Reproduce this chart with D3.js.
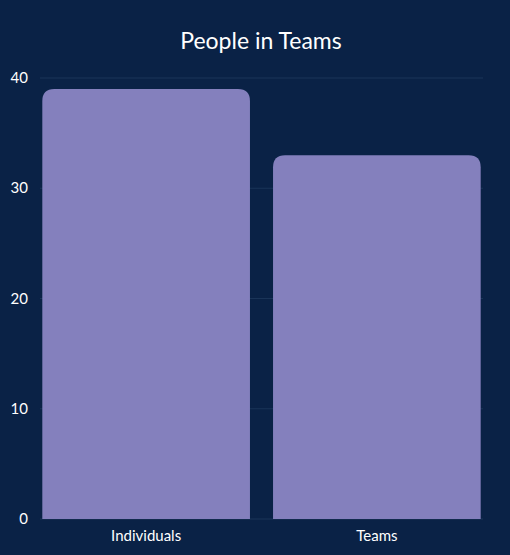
<!DOCTYPE html><html><head><meta charset="utf-8">
<script src="https://cdn.jsdelivr.net/npm/d3@7"></script>
<style>body{margin:0;background:#0a2246}</style></head><body>
<script>
const categories=["Individuals","Teams"];
const values=[39,33];
const yTicks=[0,10,20,30,40];
const W=510,H=555,m={l:40,r:27,t:78,b:36};
const svg=d3.select("body").append("svg").attr("width",W).attr("height",H).style("background","#0a2246").style("font-family","Lato, sans-serif");
const x=d3.scaleBand().domain(categories).range([m.l,W-m.r]).paddingInner(0.1).paddingOuter(0.01);
const y=d3.scaleLinear().domain([0,40]).range([H-m.b,m.t]);
svg.selectAll(".g").data(yTicks).join("line").attr("x1",m.l).attr("x2",W-m.r).attr("y1",d=>y(d)).attr("y2",d=>y(d)).attr("stroke","#1a3458").attr("stroke-width",1);
svg.selectAll(".yt").data(yTicks).join("text").attr("x",28).attr("y",d=>y(d)+5).attr("text-anchor","end").attr("fill","#fff").attr("font-size",15).text(d=>d);
const r=12;
svg.selectAll(".bar").data(values).join("path").attr("fill","#8480bd").attr("d",(d,i)=>{
 const x0=x(categories[i]),w=x.bandwidth(),y0=y(d),yb=y(0);
 return `M${x0},${yb}V${y0+r}Q${x0},${y0} ${x0+r},${y0}H${x0+w-r}Q${x0+w},${y0} ${x0+w},${y0+r}V${yb}Z`;});
svg.selectAll(".xt").data(categories).join("text").attr("x",d=>x(d)+x.bandwidth()/2).attr("y",H-14).attr("text-anchor","middle").attr("fill","#fff").attr("font-size",15).text(d=>d);
svg.append("text").attr("x",261).attr("y",49).attr("text-anchor","middle").attr("fill","#fff").attr("font-size",23).text("People in Teams");
</script></body></html>
